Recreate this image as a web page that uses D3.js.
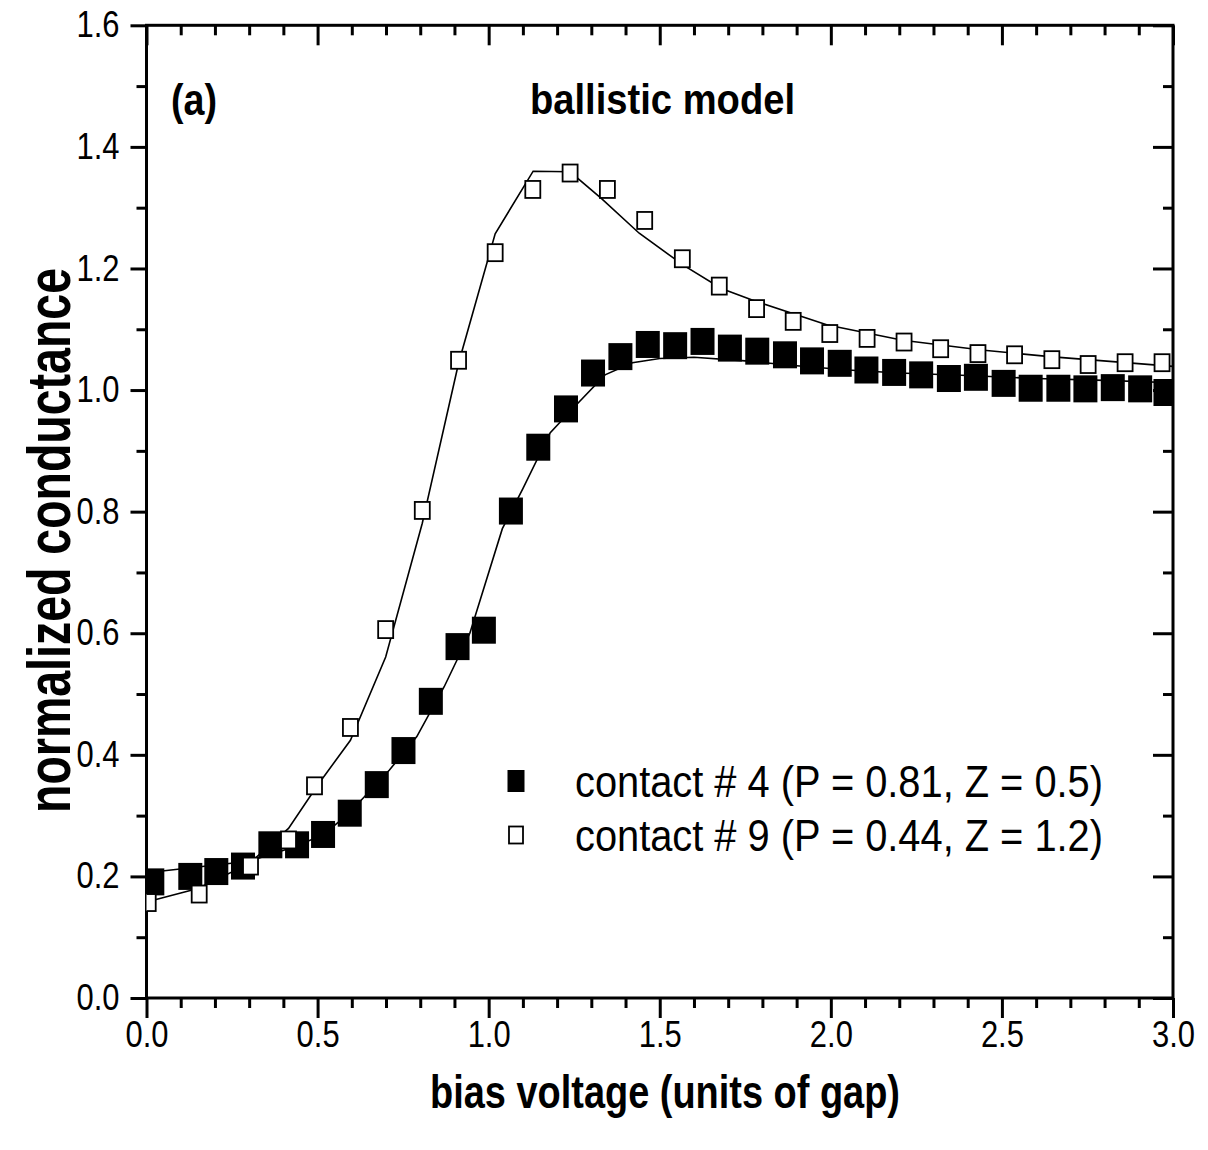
<!DOCTYPE html>
<html lang="en">
<head>
<meta charset="UTF-8">
<title>ballistic model</title>
<script src="https://d3js.org/d3.v7.min.js"></script>
<style>
  body { margin: 0; background: #fff; }
  svg text { font-family: "Liberation Sans", Arial, sans-serif; fill: #000; }
</style>
</head>
<body>
<svg id="chart"></svg>
<script>
// contact #4 (P = 0.81, Z = 0.5) - filled squares
const contact4V = [0.017, 0.128, 0.204, 0.282, 0.362, 0.44, 0.516, 0.594, 0.673, 0.751, 0.831, 0.909, 0.986, 1.065, 1.145, 1.226, 1.305, 1.385, 1.465, 1.545, 1.625, 1.705, 1.785, 1.866, 1.945, 2.026, 2.104, 2.185, 2.264, 2.345, 2.424, 2.505, 2.584, 2.665, 2.744, 2.824, 2.904, 2.978];
const contact4G = [0.191, 0.200, 0.208, 0.217, 0.252, 0.252, 0.269, 0.304, 0.351, 0.407, 0.488, 0.578, 0.605, 0.801, 0.906, 0.969, 1.028, 1.055, 1.075, 1.073, 1.080, 1.069, 1.064, 1.058, 1.048, 1.044, 1.033, 1.029, 1.025, 1.019, 1.021, 1.011, 1.003, 1.003, 1.002, 1.004, 1.002, 0.996];

// contact #9 (P = 0.44, Z = 1.2) - open squares
const contact9V = [0.005, 0.154, 0.304, 0.415, 0.491, 0.596, 0.699, 0.806, 0.912, 1.019, 1.129, 1.238, 1.347, 1.456, 1.566, 1.674, 1.783, 1.890, 1.997, 2.106, 2.214, 2.321, 2.430, 2.537, 2.646, 2.752, 2.860, 2.968];
const contact9G = [0.157, 0.171, 0.217, 0.260, 0.349, 0.445, 0.606, 0.802, 1.049, 1.226, 1.330, 1.357, 1.330, 1.279, 1.216, 1.171, 1.134, 1.113, 1.093, 1.085, 1.079, 1.068, 1.060, 1.058, 1.050, 1.042, 1.045, 1.045];

// model curves
const fit4V = [0, 0.30, 0.44, 0.52, 0.594, 0.63, 0.71, 0.79, 0.87, 0.945, 1.04, 1.10, 1.18, 1.26, 1.34, 1.42, 1.50, 1.60, 1.75, 1.90, 2.05, 2.20, 2.40, 2.60, 2.80, 3.0];
const fit4G = [0.206, 0.225, 0.250, 0.270, 0.305, 0.327, 0.375, 0.430, 0.512, 0.600, 0.772, 0.838, 0.930, 0.978, 1.025, 1.045, 1.052, 1.054, 1.048, 1.040, 1.033, 1.028, 1.024, 1.019, 1.016, 1.012];
const fit9V = [0, 0.15, 0.30, 0.415, 0.50, 0.596, 0.699, 0.806, 0.912, 1.019, 1.13, 1.238, 1.33, 1.44, 1.57, 1.68, 1.77, 1.99, 2.21, 2.44, 2.64, 3.0];
const fit9G = [0.158, 0.180, 0.221, 0.279, 0.350, 0.424, 0.561, 0.781, 1.044, 1.257, 1.360, 1.359, 1.315, 1.258, 1.205, 1.167, 1.148, 1.107, 1.082, 1.066, 1.055, 1.039];

const xTicks = [0, 0.5, 1.0, 1.5, 2.0, 2.5, 3.0];
const yTicks = [0, 0.2, 0.4, 0.6, 0.8, 1.0, 1.2, 1.4, 1.6];
const legendLabels = ["contact # 4 (P = 0.81, Z = 0.5)", "contact # 9 (P = 0.44, Z = 1.2)"];

const W = 1208, H = 1150;
const margin = { top: 25.3, right: 35, bottom: 152, left: 146.5 };
const width = W - margin.left - margin.right,
      height = H - margin.top - margin.bottom;

const svg = d3.select("#chart").attr("width", W).attr("height", H);
const g = svg.append("g").attr("transform", `translate(${margin.left},${margin.top})`);

const x = d3.scaleLinear().domain([0, 3]).range([0, width]);
const y = d3.scaleLinear().domain([0, 1.6]).range([height, 0]);

const xMinor = d3.range(0, 31).map(i => i / 10).filter(v => Math.abs(v * 2 - Math.round(v * 2)) > 1e-6);
const yMinor = d3.range(1, 16, 2).map(i => i / 10);

function styleAxis(sel) {
    sel.select(".domain").remove();
    sel.selectAll("line").attr("stroke", "#000").attr("stroke-width", 3);
    sel.selectAll("text").style("font-size", "36px").attr("fill", "#000")
        .attr("textLength", 43).attr("lengthAdjust", "spacingAndGlyphs");
}

// bottom
g.append("g").attr("transform", `translate(0,${height})`)
    .call(d3.axisBottom(x).tickValues(xTicks).tickFormat(d3.format(".1f")).tickSize(20).tickPadding(3))
    .call(styleAxis);
g.append("g").attr("transform", `translate(0,${height})`)
    .call(d3.axisBottom(x).tickValues(xMinor).tickFormat("").tickSize(10))
    .call(styleAxis);
// top (inward)
g.append("g")
    .call(d3.axisTop(x).tickValues(xTicks).tickFormat("").tickSize(-20))
    .call(styleAxis);
g.append("g")
    .call(d3.axisTop(x).tickValues(xMinor).tickFormat("").tickSize(-10))
    .call(styleAxis);
// left
g.append("g")
    .call(d3.axisLeft(y).tickValues(yTicks).tickFormat(d3.format(".1f")).tickSize(16).tickPadding(11))
    .call(styleAxis);
g.append("g")
    .call(d3.axisLeft(y).tickValues(yMinor).tickFormat("").tickSize(10))
    .call(styleAxis);
// right (inward)
g.append("g").attr("transform", `translate(${width},0)`)
    .call(d3.axisRight(y).tickValues(yTicks).tickFormat("").tickSize(-20))
    .call(styleAxis);
g.append("g").attr("transform", `translate(${width},0)`)
    .call(d3.axisRight(y).tickValues(yMinor).tickFormat("").tickSize(-10))
    .call(styleAxis);

// frame
g.append("rect").attr("width", width).attr("height", height)
    .attr("fill", "none").attr("stroke", "#000").attr("stroke-width", 3);

// clip
svg.append("clipPath").attr("id", "plot-clip")
    .append("rect").attr("width", width).attr("height", height);
const plot = g.append("g").attr("clip-path", "url(#plot-clip)");

const line = d3.line().x(d => x(d[0])).y(d => y(d[1]));

plot.append("path").datum(d3.zip(fit4V, fit4G))
    .attr("d", line).attr("fill", "none").attr("stroke", "#000").attr("stroke-width", 1.6);
plot.append("path").datum(d3.zip(fit9V, fit9G))
    .attr("d", line).attr("fill", "none").attr("stroke", "#000").attr("stroke-width", 1.6);

// filled squares
const fw = 24, fh = 27;
plot.selectAll(".c4").data(d3.zip(contact4V, contact4G)).enter().append("rect")
    .attr("class", "c4")
    .attr("x", d => x(d[0]) - fw / 2).attr("y", d => y(d[1]) - fh / 2)
    .attr("width", fw).attr("height", fh).attr("fill", "#000");

// open squares
const ow = 15, oh = 17;
plot.selectAll(".c9").data(d3.zip(contact9V, contact9G)).enter().append("rect")
    .attr("class", "c9")
    .attr("x", d => x(d[0]) - ow / 2).attr("y", d => y(d[1]) - oh / 2)
    .attr("width", ow).attr("height", oh)
    .attr("fill", "#fff").attr("stroke", "#000").attr("stroke-width", 1.8);

// legend
const legend = svg.append("g").attr("transform", "translate(516,781)");
legend.append("rect").attr("x", -8.5).attr("y", -11).attr("width", 17).attr("height", 22).attr("fill", "#000");
legend.append("rect").attr("x", -7).attr("y", 54 - 8.5).attr("width", 14).attr("height", 17)
    .attr("fill", "#fff").attr("stroke", "#000").attr("stroke-width", 1.8);
legend.selectAll(".lt").data(legendLabels).enter().append("text")
    .attr("class", "lt")
    .attr("x", 59).attr("y", (d, i) => 16 + i * 54)
    .attr("textLength", 528).attr("lengthAdjust", "spacingAndGlyphs")
    .style("font-size", "45px")
    .text(d => d);

// annotations
svg.append("text").attr("x", 171).attr("y", 115)
    .attr("textLength", 46).attr("lengthAdjust", "spacingAndGlyphs")
    .style("font-size", "44px").style("font-weight", "bold").text("(a)");
svg.append("text").attr("x", 530).attr("y", 114)
    .attr("textLength", 265).attr("lengthAdjust", "spacingAndGlyphs")
    .style("font-size", "42px").style("font-weight", "bold").text("ballistic model");

// axis titles
svg.append("text").attr("x", 430).attr("y", 1108)
    .attr("textLength", 470).attr("lengthAdjust", "spacingAndGlyphs")
    .style("font-size", "46px").style("font-weight", "bold")
    .text("bias voltage (units of gap)");
svg.append("text")
    .attr("transform", "translate(70,813) rotate(-90)")
    .attr("textLength", 545).attr("lengthAdjust", "spacingAndGlyphs")
    .style("font-size", "62px").style("font-weight", "bold")
    .text("normalized conductance");
</script>
</body>
</html>
